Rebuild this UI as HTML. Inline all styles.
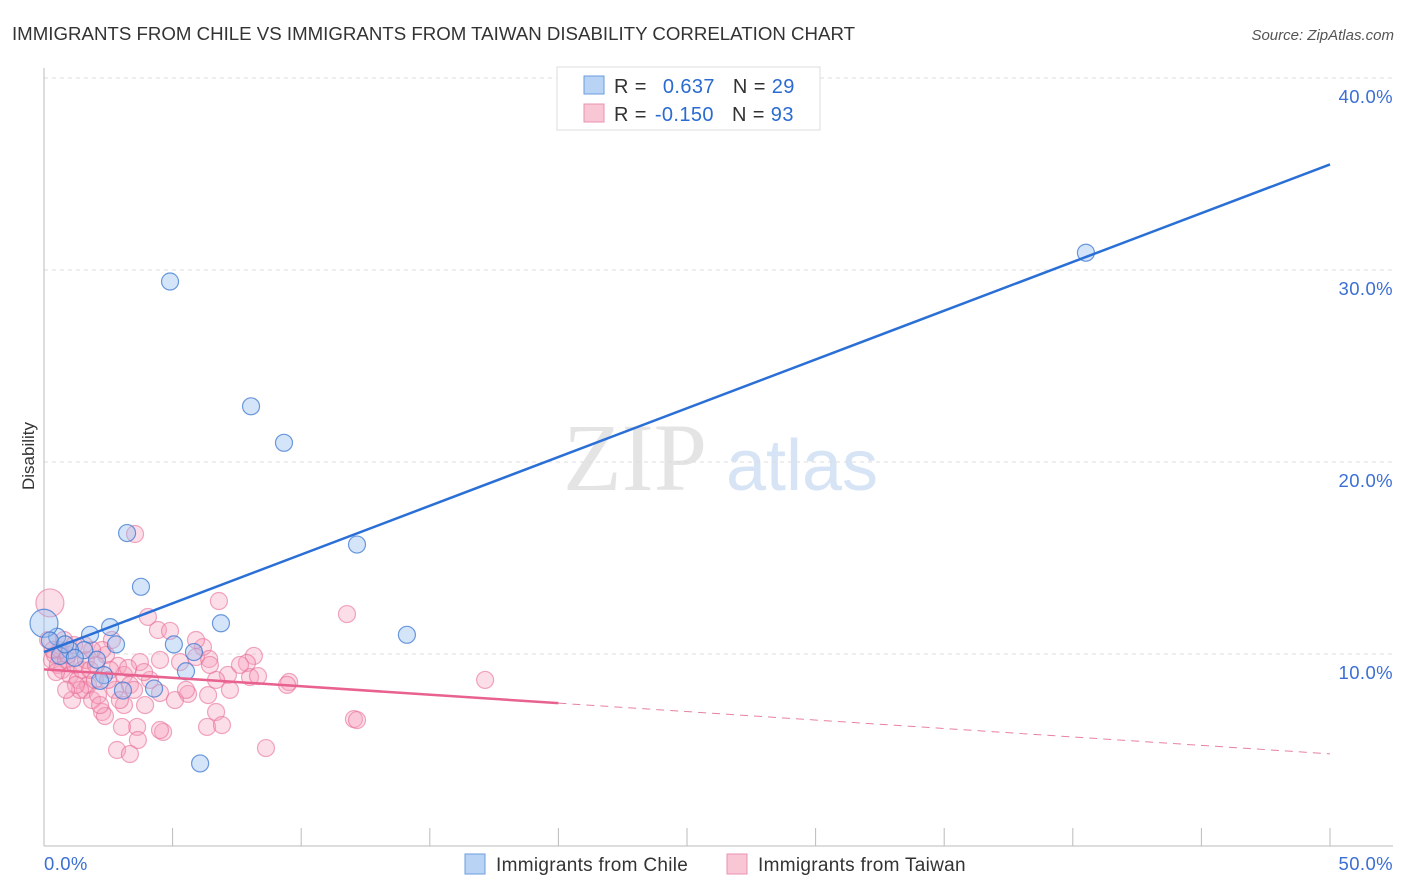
<!DOCTYPE html>
<html><head><meta charset="utf-8"><style>
body{margin:0;background:#fff;font-family:"Liberation Sans",sans-serif}
svg{display:block}
</style></head><body>
<svg id="chart" width="1406" height="892" xmlns="http://www.w3.org/2000/svg" font-family="Liberation Sans, sans-serif">
<text x="12" y="40" font-size="18" fill="#333" textLength="843" lengthAdjust="spacingAndGlyphs">IMMIGRANTS FROM CHILE VS IMMIGRANTS FROM TAIWAN DISABILITY CORRELATION CHART</text>
<text x="1394" y="40" font-size="15" fill="#555" text-anchor="end" font-style="italic">Source: ZipAtlas.com</text>
<text transform="translate(34,456) rotate(-90)" font-size="17" fill="#333" text-anchor="middle">Disability</text>
<g><text x="635" y="490" font-size="96" fill="#e4e4e4" text-anchor="middle" font-family="Liberation Serif, serif">ZIP</text><text x="802" y="490" font-size="72" fill="#d6e4f5" text-anchor="middle">atlas</text></g>
<g id="grid"></g><g id="axes"></g><g id="marks"></g><g id="lines"></g>
<g>
<rect x="557" y="67" width="263" height="63" fill="#fff" stroke="#ddd"/>
<rect x="584" y="76" width="20" height="18" fill="#b9d3f5" stroke="#6a9de0"/>
<rect x="584" y="104" width="20" height="18" fill="#f9c6d5" stroke="#eb93b0"/>
<text x="614" y="93" font-size="20" fill="#333" letter-spacing="0.4">R = <tspan fill="#2a6bd1" dx="10">0.637</tspan><tspan dx="18" fill="#333">N = </tspan><tspan fill="#2a6bd1">29</tspan></text>
<text x="614" y="121" font-size="20" fill="#333" letter-spacing="0.4">R = <tspan fill="#2a6bd1" dx="2">-0.150</tspan><tspan dx="18" fill="#333">N = </tspan><tspan fill="#2a6bd1">93</tspan></text>
</g>
<g>
<rect x="465" y="854" width="20" height="20" fill="#b9d3f5" stroke="#6a9de0"/>
<text x="496" y="871" font-size="19" fill="#333" letter-spacing="0.3">Immigrants from Chile</text>
<rect x="727" y="854" width="20" height="20" fill="#f9c6d5" stroke="#eb93b0"/>
<text x="758" y="871" font-size="19" fill="#333" letter-spacing="0.3">Immigrants from Taiwan</text>
</g>
</svg>
<script>
const yTicks=[10,20,30,40];
const yTickLabels=["10.0%","20.0%","30.0%","40.0%"];
const xTicks=[0,5,10,15,20,25,30,35,40,45,50];
const xTickLabels=["0.0%","50.0%"];
const chileX=[4.9,8.05,9.33,3.23,12.17,3.77,40.51,14.11,6.88,2.57,1.79,0.51,2.8,5.05,5.83,1.56,1.01,2.06,2.33,3.07,4.28,5.52,6.07,0,0.23,0.62,1.2,0.82,2.18];
const chileY=[29.4,22.9,21.0,16.3,15.7,13.5,30.9,11.0,11.6,11.4,11.0,10.9,10.5,10.5,10.1,10.2,10.2,9.7,8.9,8.1,8.2,9.1,4.3,11.6,10.7,9.9,9.8,10.5,8.6];
const taiwanX=[3.54,6.8,11.78,4.04,4.43,4.9,6.18,5.91,8.16,6.42,7.89,5.29,3.73,2.64,2.41,2.88,3.11,4.51,7.15,8.01,8.32,9.53,9.45,17.15,6.69,6.38,5.6,4.51,3.34,3.93,3.11,2.26,2.37,6.69,6.34,6.92,12.05,12.17,4.63,4.51,3.62,3.03,3.65,2.84,3.34,8.63,
0.23,0.16,0.31,0.43,0.54,0.7,0.86,1.01,1.21,1.32,1.48,1.59,1.71,1.87,1.98,2.1,2.18,1.09,1.4,1.63,0.62,0.78,1.79,2.57,2.76,2.95,2.02,2.26,0.93,1.17,0.47,4.12,5.09,5.52,7.23,7.62,5.91,6.45,3.27,3.5,2.49,3.89,1.87,1.56,0.35,1.24,0.86];
const taiwanY=[16.25,12.76,12.08,11.93,11.25,11.2,10.36,9.84,9.9,9.74,9.53,9.58,9.58,10.73,9.95,9.38,8.91,9.69,8.91,8.8,8.85,8.54,8.39,8.65,8.65,7.86,7.92,7.97,8.39,7.34,7.34,6.98,6.77,6.98,6.2,6.3,6.61,6.56,5.94,6.04,6.2,6.2,5.52,5.0,4.79,5.1,
12.66,10.73,9.69,9.95,9.43,9.17,9.69,8.91,9.43,8.65,9.17,8.13,8.39,7.6,8.65,7.86,7.34,7.6,8.13,9.69,10.21,10.73,9.17,9.17,8.13,7.6,9.43,10.21,9.95,10.47,9.06,8.65,7.6,8.13,8.13,9.43,10.73,9.43,9.27,8.13,8.65,9.06,10.21,10.47,10.21,8.39,8.13];
const chileTrend=[10.1,35.5];   // y at x=0, x=50
const taiwanTrend=[9.2,4.8];    // y at x=0, x=50
const taiwanSolidEnd=20;
const NS="http://www.w3.org/2000/svg";
const X0=44,X1=1330,Y0=846,PPY=19.2;
const sx=v=>X0+(X1-X0)*v/50, sy=v=>Y0-v*PPY;
function mk(tag,attrs,parent){const e=document.createElementNS(NS,tag);for(const k in attrs)e.setAttribute(k,attrs[k]);document.getElementById(parent).appendChild(e);return e;}
yTicks.forEach((t,i)=>{
 const g=mk('line',{x1:X0,x2:1393,y1:sy(t),y2:sy(t),stroke:'#ddd','stroke-dasharray':'4,4'},'grid');
 
 
 const tx=mk('text',{x:1393,y:sy(t)+25,'font-size':18.5,fill:'#3b6fd4','text-anchor':'end','letter-spacing':0.4},'axes');
 tx.textContent=yTickLabels[i];
 
 
});
let a=mk('line',{x1:X0,x2:X0,y1:68,y2:Y0,stroke:'#bbb'},'axes');


a=mk('line',{x1:X0,x2:1393,y1:Y0,y2:Y0,stroke:'#bbb'},'axes');


xTicks.forEach(t=>{const l=mk('line',{x1:sx(t),x2:sx(t),y1:Y0,y2:Y0-18,stroke:'#bbb'},'axes');
 
 });
let xl=mk('text',{x:44,y:870,'font-size':18.5,fill:'#3b6fd4','letter-spacing':0.4},'axes');xl.textContent=xTickLabels[0];


xl=mk('text',{x:1393,y:870,'font-size':18.5,fill:'#3b6fd4','text-anchor':'end','letter-spacing':0.4},'axes');xl.textContent=xTickLabels[1];


taiwanX.forEach((v,i)=>{const big=(v<0.3&&taiwanY[i]>12);
 const c=mk('circle',{cx:sx(v),cy:sy(taiwanY[i]),r:big?14:8.5,fill:'rgba(245,160,188,0.35)',stroke:'rgba(232,110,150,0.6)','stroke-width':1.2},'marks');
 
 });
chileX.forEach((v,i)=>{const big=(v===0);
 const c=mk('circle',{cx:sx(v),cy:sy(chileY[i]),r:big?14:8.5,fill:'rgba(150,190,240,0.4)',stroke:'rgba(60,120,210,0.75)','stroke-width':1.2},'marks');
 
 });
let t=mk('line',{x1:sx(0),y1:sy(chileTrend[0]),x2:sx(50),y2:sy(chileTrend[1]),stroke:'#2a6fd6','stroke-width':2.5},'lines');


const ty=x=>taiwanTrend[0]+(taiwanTrend[1]-taiwanTrend[0])*x/50;
t=mk('line',{x1:sx(0),y1:sy(ty(0)),x2:sx(taiwanSolidEnd),y2:sy(ty(taiwanSolidEnd)),stroke:'#e8618f','stroke-width':2.5},'lines');


t=mk('line',{x1:sx(taiwanSolidEnd),y1:sy(ty(taiwanSolidEnd)),x2:sx(50),y2:sy(ty(50)),stroke:'#e8819f','stroke-width':1,'stroke-dasharray':'8,6'},'lines');


</script>
</body></html>
